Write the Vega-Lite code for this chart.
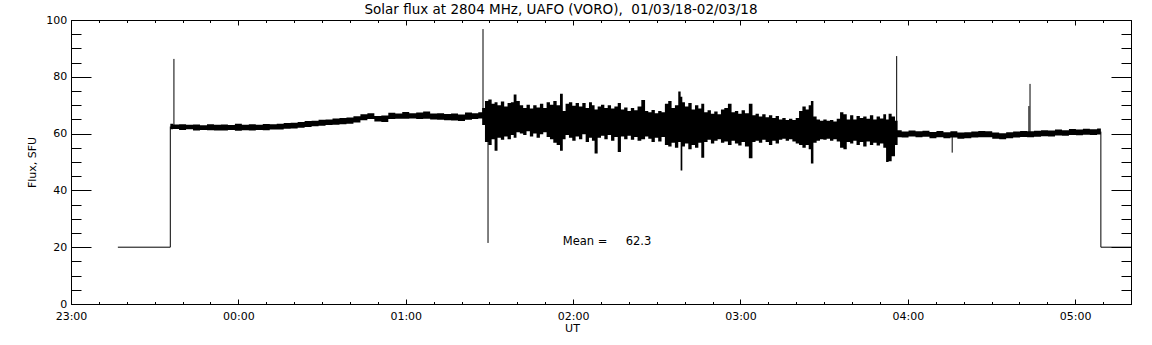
{
  "$schema": "https://vega.github.io/schema/vega-lite/v6.json",
  "width": 1060,
  "height": 284,
  "autosize": {"type": "none"},
  "padding": {"left": 71, "top": 20, "right": 21, "bottom": 41},
  "background": "white",
  "title": {"text": "Solar flux at 2804 MHz, UAFO (VORO),\u00a0\u00a001/03/18-02/03/18", "font": "DejaVu Sans", "fontSize": 13.5, "fontWeight": "normal", "color": "black", "anchor": "middle", "dx": -40, "dy": 13, "offset": 0, "baseline": "alphabetic"},
  "config": {
    "view": {"stroke": null},
    "axis": {"grid": false, "minExtent": 0, "domainColor": "black", "tickColor": "black", "labelColor": "black", "titleColor": "black", "labelFont": "DejaVu Sans", "titleFont": "DejaVu Sans", "labelFontSize": 11, "titleFontSize": 11, "titleFontWeight": "normal", "labelFlush": false, "labelOverlap": false, "domainWidth": 1, "tickWidth": 1}
  },
  "datasets": {
    "band": [
      {"t": 35.6, "lo": 61.5, "hi": 63.5},
      {"t": 37.5, "lo": 61.6, "hi": 63.2},
      {"t": 40, "lo": 61.3, "hi": 63.3},
      {"t": 42.5, "lo": 61.5, "hi": 63.1},
      {"t": 45, "lo": 61.1, "hi": 63.2},
      {"t": 47.5, "lo": 61.3, "hi": 62.9},
      {"t": 50, "lo": 61.2, "hi": 63.3},
      {"t": 52.5, "lo": 61.1, "hi": 63.1},
      {"t": 55, "lo": 61.1, "hi": 63.2},
      {"t": 57.5, "lo": 61.3, "hi": 63.0},
      {"t": 60, "lo": 61.0, "hi": 63.5},
      {"t": 62.5, "lo": 61.2, "hi": 63.1},
      {"t": 65, "lo": 61.1, "hi": 63.3},
      {"t": 67.5, "lo": 61.3, "hi": 63.1},
      {"t": 70, "lo": 61.2, "hi": 63.4},
      {"t": 72.5, "lo": 61.4, "hi": 63.3},
      {"t": 75, "lo": 61.4, "hi": 63.5},
      {"t": 77.5, "lo": 61.7, "hi": 63.7},
      {"t": 80, "lo": 61.8, "hi": 63.8},
      {"t": 82.5, "lo": 62.1, "hi": 64.1},
      {"t": 85, "lo": 62.3, "hi": 64.4},
      {"t": 87.5, "lo": 62.6, "hi": 64.5},
      {"t": 90, "lo": 62.8, "hi": 64.9},
      {"t": 92.5, "lo": 63.0, "hi": 65.0},
      {"t": 95, "lo": 63.1, "hi": 65.3},
      {"t": 97.5, "lo": 63.3, "hi": 65.5},
      {"t": 100, "lo": 63.5, "hi": 65.7},
      {"t": 102.5, "lo": 63.9, "hi": 66.1},
      {"t": 105, "lo": 64.7, "hi": 66.8},
      {"t": 107.5, "lo": 65.1, "hi": 67.2},
      {"t": 110, "lo": 64.3, "hi": 66.2},
      {"t": 112.5, "lo": 64.1, "hi": 66.4},
      {"t": 115, "lo": 65.1, "hi": 67.3},
      {"t": 117.5, "lo": 65.2, "hi": 67.1},
      {"t": 120, "lo": 65.2, "hi": 67.6},
      {"t": 122.5, "lo": 65.3, "hi": 67.2},
      {"t": 125, "lo": 65.1, "hi": 67.4},
      {"t": 127.5, "lo": 65.2, "hi": 67.8},
      {"t": 130, "lo": 65.0, "hi": 67.1},
      {"t": 132.5, "lo": 64.9, "hi": 67.2},
      {"t": 135, "lo": 64.7, "hi": 66.9},
      {"t": 137.5, "lo": 64.6, "hi": 67.1},
      {"t": 140, "lo": 64.4, "hi": 66.7},
      {"t": 142.5, "lo": 64.9, "hi": 67.4},
      {"t": 145, "lo": 65.1, "hi": 67.2},
      {"t": 147, "lo": 65.3, "hi": 67.5},
      {"t": 147.8, "lo": 63.0, "hi": 69.0},
      {"t": 149.0, "lo": 57.0, "hi": 71.5},
      {"t": 150.2, "lo": 56.0, "hi": 72.0},
      {"t": 151.4, "lo": 58.0, "hi": 70.5},
      {"t": 152.3, "lo": 54.0, "hi": 71.0},
      {"t": 153.5, "lo": 58.5, "hi": 70.0},
      {"t": 154.7, "lo": 57.8, "hi": 71.3},
      {"t": 155.9, "lo": 59.0, "hi": 69.5},
      {"t": 157.1, "lo": 58.0, "hi": 70.8},
      {"t": 158.3, "lo": 59.5, "hi": 71.0},
      {"t": 159.1, "lo": 58.5, "hi": 73.8},
      {"t": 160.3, "lo": 60.5, "hi": 71.5},
      {"t": 161.5, "lo": 60.0, "hi": 70.0},
      {"t": 162.7, "lo": 59.5, "hi": 69.0},
      {"t": 163.9, "lo": 60.8, "hi": 70.2},
      {"t": 165.1, "lo": 59.0, "hi": 68.8},
      {"t": 166.3, "lo": 60.0, "hi": 70.0},
      {"t": 167.5, "lo": 58.5, "hi": 69.2},
      {"t": 168.7, "lo": 59.8, "hi": 70.5},
      {"t": 169.9, "lo": 60.5, "hi": 69.0},
      {"t": 171.1, "lo": 58.8, "hi": 71.0},
      {"t": 172.3, "lo": 58.0, "hi": 70.2},
      {"t": 173.5, "lo": 56.8, "hi": 71.5},
      {"t": 174.7, "lo": 56.0, "hi": 70.0},
      {"t": 175.9, "lo": 54.0, "hi": 74.0},
      {"t": 176.7, "lo": 58.0, "hi": 68.0},
      {"t": 177.9, "lo": 59.5, "hi": 70.5},
      {"t": 179.1, "lo": 58.5, "hi": 71.0},
      {"t": 180.3, "lo": 57.5, "hi": 69.8},
      {"t": 181.5, "lo": 59.0, "hi": 70.8},
      {"t": 182.7, "lo": 58.0, "hi": 69.5},
      {"t": 183.9, "lo": 59.8, "hi": 70.8},
      {"t": 185.1, "lo": 57.0, "hi": 69.0},
      {"t": 186.3, "lo": 58.5, "hi": 71.0},
      {"t": 187.2, "lo": 57.5, "hi": 70.0},
      {"t": 188.2, "lo": 53.0, "hi": 68.5},
      {"t": 189.4, "lo": 58.5, "hi": 69.5},
      {"t": 190.6, "lo": 59.2, "hi": 70.2},
      {"t": 191.8, "lo": 58.0, "hi": 69.0},
      {"t": 193.0, "lo": 59.5, "hi": 70.0},
      {"t": 194.2, "lo": 57.5, "hi": 68.8},
      {"t": 195.4, "lo": 58.8, "hi": 69.5},
      {"t": 196.6, "lo": 53.5, "hi": 70.8},
      {"t": 197.7, "lo": 59.0, "hi": 68.5},
      {"t": 198.9, "lo": 58.0, "hi": 69.2},
      {"t": 200.1, "lo": 59.2, "hi": 68.0},
      {"t": 201.3, "lo": 57.8, "hi": 69.0},
      {"t": 202.5, "lo": 58.8, "hi": 68.2},
      {"t": 203.7, "lo": 57.5, "hi": 69.5},
      {"t": 205.2, "lo": 58.0, "hi": 71.8},
      {"t": 206.4, "lo": 59.0, "hi": 68.0},
      {"t": 207.5, "lo": 58.2, "hi": 67.5},
      {"t": 208.7, "lo": 57.0, "hi": 68.3},
      {"t": 209.9, "lo": 58.5, "hi": 67.2},
      {"t": 211.1, "lo": 57.2, "hi": 68.0},
      {"t": 212.3, "lo": 58.8, "hi": 67.5},
      {"t": 213.5, "lo": 56.0, "hi": 70.5},
      {"t": 214.7, "lo": 55.5, "hi": 71.5},
      {"t": 215.9, "lo": 56.8, "hi": 69.0},
      {"t": 217.1, "lo": 55.0, "hi": 70.0},
      {"t": 218.3, "lo": 57.0, "hi": 74.8},
      {"t": 218.8, "lo": 47.0, "hi": 73.0},
      {"t": 219.5, "lo": 55.5, "hi": 71.0},
      {"t": 220.7, "lo": 56.5, "hi": 69.5},
      {"t": 221.9, "lo": 54.5, "hi": 70.8},
      {"t": 223.1, "lo": 56.0, "hi": 68.5},
      {"t": 224.3, "lo": 55.0, "hi": 70.0},
      {"t": 225.5, "lo": 56.8, "hi": 68.8},
      {"t": 226.4, "lo": 51.5, "hi": 70.5},
      {"t": 227.6, "lo": 57.0, "hi": 67.5},
      {"t": 228.8, "lo": 57.8, "hi": 68.2},
      {"t": 230.0, "lo": 56.5, "hi": 67.0},
      {"t": 231.2, "lo": 57.5, "hi": 67.8},
      {"t": 232.4, "lo": 58.0, "hi": 66.8},
      {"t": 233.6, "lo": 56.8, "hi": 68.5},
      {"t": 234.8, "lo": 57.2, "hi": 69.0},
      {"t": 236.2, "lo": 56.0, "hi": 70.5},
      {"t": 237.4, "lo": 57.5, "hi": 67.5},
      {"t": 238.6, "lo": 56.5, "hi": 68.0},
      {"t": 239.8, "lo": 55.8, "hi": 67.0},
      {"t": 241.0, "lo": 57.0, "hi": 68.2},
      {"t": 242.2, "lo": 55.5, "hi": 67.2},
      {"t": 243.8, "lo": 51.3, "hi": 70.5},
      {"t": 244.8, "lo": 57.0, "hi": 66.5},
      {"t": 246.0, "lo": 57.5, "hi": 67.0},
      {"t": 247.2, "lo": 56.8, "hi": 66.0},
      {"t": 248.4, "lo": 57.8, "hi": 66.8},
      {"t": 249.6, "lo": 57.0, "hi": 65.8},
      {"t": 250.8, "lo": 56.0, "hi": 66.5},
      {"t": 252.0, "lo": 57.5, "hi": 65.5},
      {"t": 253.2, "lo": 56.5, "hi": 66.2},
      {"t": 254.4, "lo": 57.8, "hi": 65.0},
      {"t": 255.6, "lo": 58.2, "hi": 65.5},
      {"t": 256.8, "lo": 57.5, "hi": 64.8},
      {"t": 258.0, "lo": 58.0, "hi": 65.2},
      {"t": 259.2, "lo": 57.2, "hi": 64.8},
      {"t": 260.4, "lo": 56.5, "hi": 65.5},
      {"t": 261.6, "lo": 56.0, "hi": 68.0},
      {"t": 262.8, "lo": 55.0, "hi": 69.5},
      {"t": 264.0, "lo": 56.0, "hi": 68.5},
      {"t": 264.9, "lo": 54.5, "hi": 70.0},
      {"t": 265.6, "lo": 49.5, "hi": 71.5},
      {"t": 266.7, "lo": 56.8, "hi": 66.0},
      {"t": 267.9, "lo": 57.5, "hi": 65.0},
      {"t": 269.1, "lo": 58.0, "hi": 64.5},
      {"t": 270.3, "lo": 57.8, "hi": 65.0},
      {"t": 271.5, "lo": 58.2, "hi": 64.5},
      {"t": 272.7, "lo": 57.5, "hi": 64.8},
      {"t": 273.9, "lo": 58.0, "hi": 64.3},
      {"t": 275.1, "lo": 57.2, "hi": 65.2},
      {"t": 276.3, "lo": 55.0, "hi": 67.5},
      {"t": 277.5, "lo": 54.5, "hi": 66.8},
      {"t": 278.7, "lo": 57.0, "hi": 65.0},
      {"t": 279.9, "lo": 56.5, "hi": 66.5},
      {"t": 281.0, "lo": 57.5, "hi": 65.0},
      {"t": 282.2, "lo": 56.0, "hi": 66.2},
      {"t": 283.4, "lo": 57.0, "hi": 65.5},
      {"t": 284.6, "lo": 55.5, "hi": 66.0},
      {"t": 285.8, "lo": 57.2, "hi": 65.2},
      {"t": 287.0, "lo": 56.0, "hi": 66.5},
      {"t": 288.2, "lo": 56.8, "hi": 65.0},
      {"t": 289.4, "lo": 55.8, "hi": 66.0},
      {"t": 290.6, "lo": 56.5, "hi": 65.3},
      {"t": 291.8, "lo": 55.0, "hi": 66.8},
      {"t": 292.6, "lo": 50.0, "hi": 65.0},
      {"t": 293.6, "lo": 50.3, "hi": 67.0},
      {"t": 294.8, "lo": 52.0, "hi": 66.0},
      {"t": 296.0, "lo": 56.0, "hi": 64.5},
      {"t": 296.6, "lo": 58.7, "hi": 61.2},
      {"t": 299, "lo": 58.6, "hi": 60.7},
      {"t": 301.5, "lo": 59.0, "hi": 61.1},
      {"t": 304, "lo": 58.7, "hi": 60.8},
      {"t": 306.5, "lo": 58.9, "hi": 61.0},
      {"t": 309, "lo": 58.4, "hi": 60.6},
      {"t": 311.5, "lo": 58.7, "hi": 60.9},
      {"t": 314, "lo": 58.4, "hi": 60.5},
      {"t": 316.5, "lo": 58.6, "hi": 60.8},
      {"t": 319, "lo": 58.2, "hi": 60.4},
      {"t": 321.5, "lo": 58.4, "hi": 60.5},
      {"t": 324, "lo": 58.6, "hi": 60.7},
      {"t": 326.5, "lo": 58.7, "hi": 60.9},
      {"t": 329, "lo": 58.7, "hi": 60.8},
      {"t": 331.5, "lo": 58.2, "hi": 60.4},
      {"t": 334, "lo": 58.0, "hi": 60.1},
      {"t": 336.5, "lo": 58.4, "hi": 60.5},
      {"t": 339, "lo": 58.6, "hi": 60.7},
      {"t": 341.5, "lo": 58.8, "hi": 60.9},
      {"t": 344, "lo": 58.7, "hi": 60.8},
      {"t": 346.5, "lo": 58.9, "hi": 61.0},
      {"t": 349, "lo": 59.1, "hi": 61.2},
      {"t": 351.5, "lo": 59.0, "hi": 61.1},
      {"t": 354, "lo": 59.3, "hi": 61.4},
      {"t": 356.5, "lo": 59.2, "hi": 61.2},
      {"t": 359, "lo": 59.5, "hi": 61.6},
      {"t": 361.5, "lo": 59.4, "hi": 61.4},
      {"t": 364, "lo": 59.6, "hi": 61.7},
      {"t": 366.5, "lo": 59.5, "hi": 61.5},
      {"t": 369.2, "lo": 59.7, "hi": 61.8}
    ],
    "trace": [
      {"t": 16.8, "flux": 20, "seg": "start"},
      {"t": 35.6, "flux": 20, "seg": "start"},
      {"t": 35.6, "flux": 62.5, "seg": "start"},
      {"t": 369.2, "flux": 60.7, "seg": "end"},
      {"t": 369.2, "flux": 20, "seg": "end"},
      {"t": 380, "flux": 20, "seg": "end"}
    ],
    "spikes": [
      {"t": 36.9, "y1": 62, "y2": 86.3},
      {"t": 147.7, "y1": 66, "y2": 96.8},
      {"t": 149.5, "y1": 21.5, "y2": 60},
      {"t": 296.0, "y1": 56, "y2": 87.3},
      {"t": 315.9, "y1": 53.3, "y2": 59.5},
      {"t": 343.4, "y1": 60, "y2": 69.7},
      {"t": 343.8, "y1": 60, "y2": 77.5}
    ],
    "note": [
      {"t": 176.3, "y": 21.8, "label": "Mean =\u00a0\u00a0\u00a0\u00a0\u00a062.3"}
    ]
  },
  "resolve": {"axis": {"x": "independent", "y": "independent"}},
  "layer": [
    {
      "data": {"name": "band"},
      "mark": {"type": "area", "color": "black", "interpolate": "step"},
      "encoding": {
        "x": {"field": "t", "type": "quantitative", "scale": {"domain": [0, 380], "nice": false, "zero": false},
          "axis": {"orient": "bottom", "values": [0, 60, 120, 180, 240, 300, 360], "tickSize": -5, "labelPadding": 20, "labelBaseline": "alphabetic", "labelExpr": "datum.value == 0 ? '23:00' : '0' + (datum.value / 60 - 1) + ':00'", "title": "UT", "titleX": 501, "titleY": 24.5, "titleBaseline": "middle", "titleAlign": "center", "domain": true}},
        "y": {"field": "lo", "type": "quantitative", "scale": {"domain": [0, 100], "nice": false, "zero": false},
          "axis": {"orient": "left", "values": [0, 20, 40, 60, 80, 100], "tickSize": -20, "labelPadding": 24.3, "title": "Flux, SFU", "titleX": -39, "titleY": 142, "titleAngle": -90, "titleBaseline": "middle", "titleAlign": "center", "domain": true}},
        "y2": {"field": "hi"}
      }
    },
    {
      "data": {"name": "trace"},
      "mark": {"type": "line", "color": "black", "strokeWidth": 1},
      "encoding": {
        "x": {"field": "t", "type": "quantitative", "scale": {"domain": [0, 380], "nice": false, "zero": false},
          "axis": {"orient": "bottom", "values": [0, 10, 20, 30, 40, 50, 60, 70, 80, 90, 100, 110, 120, 130, 140, 150, 160, 170, 180, 190, 200, 210, 220, 230, 240, 250, 260, 270, 280, 290, 300, 310, 320, 330, 340, 350, 360, 370, 380], "tickSize": -2.5, "labels": false, "domain": false, "title": null}},
        "y": {"field": "flux", "type": "quantitative", "scale": {"domain": [0, 100], "nice": false, "zero": false},
          "axis": {"orient": "left", "values": [0, 5, 10, 15, 20, 25, 30, 35, 40, 45, 50, 55, 60, 65, 70, 75, 80, 85, 90, 95, 100], "tickSize": -10, "labels": false, "domain": false, "title": null}},
        "detail": {"field": "seg"},
        "order": {"field": "t", "type": "quantitative"}
      }
    },
    {
      "data": {"name": "spikes"},
      "mark": {"type": "rule", "color": "black", "strokeWidth": 1},
      "encoding": {
        "x": {"field": "t", "type": "quantitative", "scale": {"domain": [0, 380], "nice": false, "zero": false},
          "axis": {"orient": "top", "values": [0, 60, 120, 180, 240, 300, 360], "tickSize": -5, "labels": false, "domain": true, "title": null}},
        "y": {"field": "y1", "type": "quantitative", "scale": {"domain": [0, 100], "nice": false, "zero": false},
          "axis": {"orient": "right", "values": [0, 20, 40, 60, 80, 100], "tickSize": -20, "labels": false, "domain": true, "title": null}},
        "y2": {"field": "y2"}
      }
    },
    {
      "data": {"name": "note"},
      "mark": {"type": "text", "color": "black", "font": "DejaVu Sans", "fontSize": 11.5, "align": "left", "baseline": "middle"},
      "encoding": {
        "x": {"field": "t", "type": "quantitative", "scale": {"domain": [0, 380], "nice": false, "zero": false},
          "axis": {"orient": "top", "values": [0, 10, 20, 30, 40, 50, 60, 70, 80, 90, 100, 110, 120, 130, 140, 150, 160, 170, 180, 190, 200, 210, 220, 230, 240, 250, 260, 270, 280, 290, 300, 310, 320, 330, 340, 350, 360, 370, 380], "tickSize": -2.5, "labels": false, "domain": false, "title": null}},
        "y": {"field": "y", "type": "quantitative", "scale": {"domain": [0, 100], "nice": false, "zero": false},
          "axis": {"orient": "right", "values": [0, 5, 10, 15, 20, 25, 30, 35, 40, 45, 50, 55, 60, 65, 70, 75, 80, 85, 90, 95, 100], "tickSize": -10, "labels": false, "domain": false, "title": null}},
        "text": {"field": "label"}
      }
    }
  ]
}
